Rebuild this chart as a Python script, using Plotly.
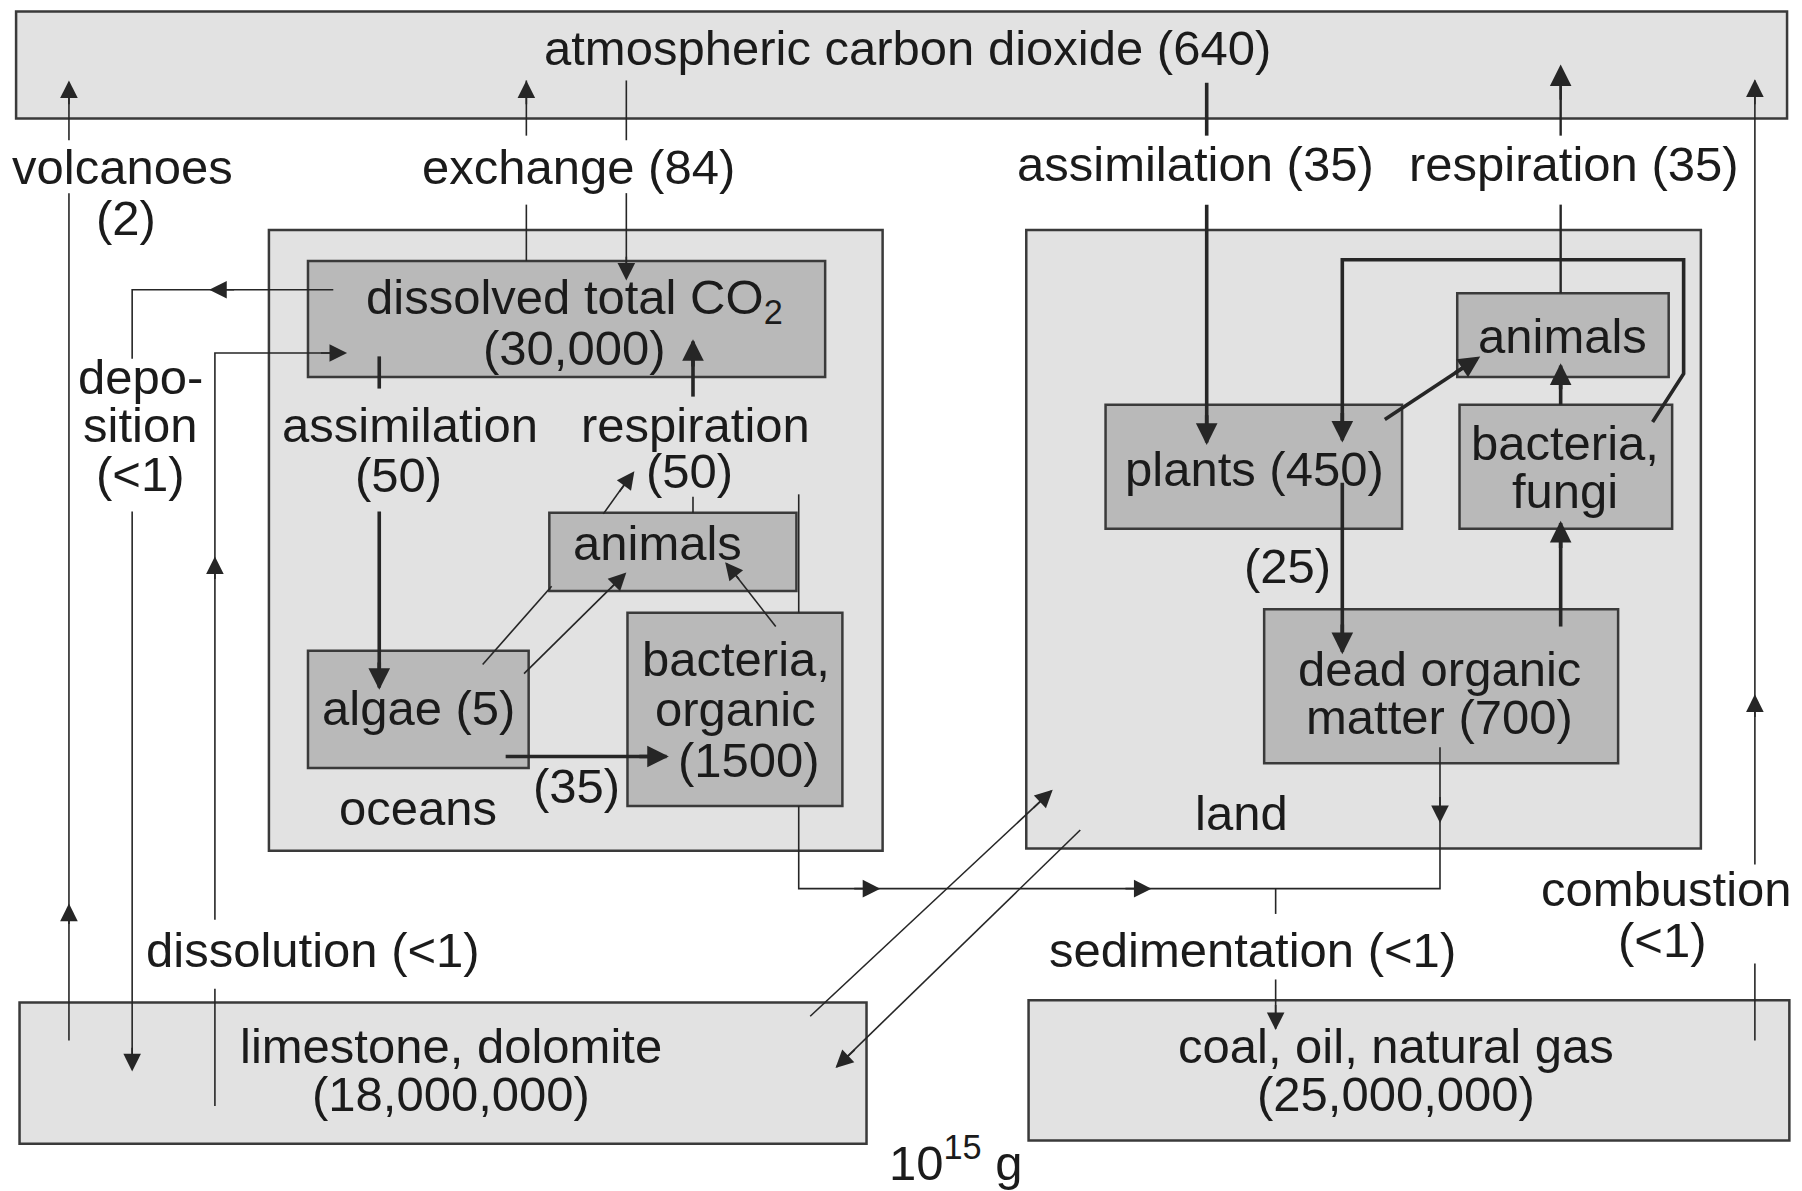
import plotly.graph_objects as go

# --- reservoirs (10^15 g of carbon) ---
RESERVOIR_NAMES = [
    "atmospheric carbon dioxide", "oceans", "dissolved total CO<sub>2</sub>", "animals", "algae",
    "bacteria,\norganic", "land", "plants", "animals", "bacteria,\nfungi",
    "dead organic\nmatter", "limestone, dolomite", "coal, oil, natural gas",
]
RESERVOIR_VALUES = ["640", None, "30,000", None, "5", "1500", None, "450", None, None, "700", "18,000,000", "25,000,000"]

# --- fluxes (10^15 g / yr) ---
FLUX_NAMES = ["volcanoes", "exchange", "assimilation", "respiration", "depo-\nsition", "assimilation",
              "respiration", "", "", "dissolution", "sedimentation", "combustion"]
FLUX_VALUES = ["2", "84", "35", "35", "&lt;1", "50", "50", "35", "25", "&lt;1", "&lt;1", "&lt;1"]
UNIT_LABEL = "10<sup>15</sup> g"

# --- layout of the diagram (picture pixels, 1568 x 1036 frame) ---
BOX_RECTS = [
    (14, 10, 1555, 103), (234, 200, 768, 740), (268, 227, 718, 328), (478, 446, 693, 514),
    (268, 566, 460, 668), (546, 533, 733, 701), (893, 200, 1480, 738), (962, 352, 1220, 460),
    (1268, 255, 1452, 328), (1270, 352, 1455, 460), (1100, 530, 1408, 664), (17, 872, 754, 995),
    (895, 870, 1557, 992),
]
BOX_KIND = ["outer", "outer", "inner", "inner", "inner", "inner", "outer", "inner", "inner", "inner",
            "inner", "outer", "outer"]
BOX_TEXT_POS = [
    (790, 42), (364, 703), (500, 261), (572, 472), (364, 616), (640, 573), (1080, 707), (1092, 408),
    (1360, 292), (1362, 385), (1253, 582), (392, 910), (1215, 910),
]
LAST_LINE_DX = [0, 0, 0, 0, 0, 12, 0, 0, 0, 0, 0, 0, 0]
VALUE_ON_NEW_LINE = [False, False, True, False, False, True, False, False, False, False, False, True, True]

FLUX_TEXT_POS = [
    (107, 145), (503, 145), (1040, 143), (1370, 143), (122, 328), (357, 370), (605, 370),
    (502, 684), (1120, 492), (272, 826), (1090, 826), (1450, 773),
]
FLUX_VALUE_ON_NEW_LINE = [True, False, False, False, True, True, True, False, False, False, False, True]
FLUX_VALUE_POS = [
    (110, 190), None, None, None, (122, 412), (347, 413), (600, 410), (502, 684), (1120, 492),
    None, None, (1447, 818),
]

THIN_PATHS = [
    [(60, 905), (60, 168)], [(60, 122), (60, 72)],
    [(290, 252), (115, 252), (115, 312)], [(115, 445), (115, 930)],
    [(187, 962), (187, 860)], [(187, 800), (187, 307), (300, 307)],
    [(458, 227), (458, 178)], [(458, 118), (458, 70)],
    [(545, 70), (545, 122)], [(545, 168), (545, 242)],
    [(603, 432), (603, 446)], [(525, 447), (550, 412)],
    [(695, 533), (695, 430)],
    [(420, 578), (480, 510)], [(456, 586), (543, 500)],
    [(675, 545), (632, 490)],
    [(695, 701), (695, 773), (1253, 773), (1253, 650)],
    [(1110, 773), (1110, 795)], [(1110, 852), (1110, 895)],
    [(705, 884), (915, 688)], [(940, 722), (728, 928)],
    [(1527, 905), (1527, 838)], [(1527, 752), (1527, 70)],
]
THIN_HEADS = [
    (60, 92, 60, 70), (60, 805, 60, 786), (205, 252, 182, 252), (115, 910, 115, 932),
    (187, 505, 187, 484), (278, 307, 302, 307), (458, 92, 458, 70), (545, 222, 545, 244),
    (538, 429, 552, 410), (530, 513, 545, 498), (644, 505, 631, 489), (742, 773, 766, 773),
    (978, 773, 1002, 773), (1253, 692, 1253, 716), (1110, 873, 1110, 896), (898, 704, 916, 687),
    (745, 912, 727, 929), (1527, 625, 1527, 604), (1527, 92, 1527, 69),
]
MEDIUM_PATHS = [[(1358, 255), (1358, 178)], [(1358, 118), (1358, 60)]]
MEDIUM_HEADS = [(1358, 88, 1358, 56)]
THICK_PATHS = [
    [(330, 310), (330, 338)], [(330, 445), (330, 598)],
    [(603, 345), (603, 297)], [(440, 658), (580, 658)],
    [(1050, 72), (1050, 118)], [(1050, 178), (1050, 385)],
    [(1438, 367), (1465, 325), (1465, 226), (1168, 226), (1168, 383)],
    [(1205, 365), (1285, 312)], [(1358, 352), (1358, 318)],
    [(1358, 545), (1358, 455)], [(1168, 420), (1168, 567)],
]
THICK_HEADS = [
    (330, 575, 330, 600), (603, 320, 603, 295), (555, 658, 582, 658), (1050, 360, 1050, 387),
    (1168, 358, 1168, 385), (1265, 325, 1288, 310), (1358, 340, 1358, 316), (1358, 478, 1358, 453),
    (1168, 542, 1168, 569),
]

W, H = 1568, 1036
FONT = "Liberation Sans, Arial, Helvetica, sans-serif"
TEXT_COLOR = "#1b1b1b"
LINE_COLOR = "#262626"
FONT_SIZE = 49
LINE_STEP = 42

fig = go.Figure()
# invisible trace to set up the axes
fig.add_trace(go.Scatter(x=[0, W], y=[0, H], mode="markers", marker={"opacity": 0}, hoverinfo="skip", showlegend=False))

shapes = []
for (x0, y0, x1, y1), kind in zip(BOX_RECTS, BOX_KIND):
    fill = "#e2e2e2" if kind == "outer" else "#b9b9b9"
    shapes.append({"type": "rect", "x0": x0, "y0": y0, "x1": x1, "y1": y1, "fillcolor": fill,
                   "line": {"color": "#3a3a3a", "width": 2.5}, "layer": "below"})


def path_shape(points, width):
    d = "M " + " L ".join(f"{x},{y}" for x, y in points)
    return {"type": "path", "path": d, "line": {"color": LINE_COLOR, "width": width}}


shapes += [path_shape(p, 1.6) for p in THIN_PATHS]
shapes += [path_shape(p, 2.4) for p in MEDIUM_PATHS]
shapes += [path_shape(p, 3.6) for p in THICK_PATHS]

annotations = []


def head(ax, ay, x, y, width, size):
    annotations.append({"x": x, "y": y, "ax": ax, "ay": ay, "xref": "x", "yref": "y", "axref": "x",
                        "ayref": "y", "text": "", "showarrow": True, "arrowhead": 2, "arrowsize": size,
                        "arrowwidth": width, "arrowcolor": LINE_COLOR, "standoff": 0, "startstandoff": 0})


for h in THIN_HEADS:
    head(*h, 1.6, 2.2)
for h in MEDIUM_HEADS:
    head(*h, 2.4, 1.8)
for h in THICK_HEADS:
    head(*h, 3.6, 1.2)


def text(x, y, s, size=FONT_SIZE):
    annotations.append({"x": x, "y": y, "xref": "x", "yref": "y", "text": s, "showarrow": False,
                        "font": {"family": FONT, "size": size, "color": TEXT_COLOR},
                        "xanchor": "center", "yanchor": "middle", "borderpad": 0})


for name, value, (x, y), newline, dx in zip(RESERVOIR_NAMES, RESERVOIR_VALUES, BOX_TEXT_POS,
                                            VALUE_ON_NEW_LINE, LAST_LINE_DX):
    lines = name.split("\n")
    if value is not None:
        if newline:
            lines.append(f"({value})")
        else:
            lines[-1] += f" ({value})"
    step = LINE_STEP * (1.05 if len(lines) == 3 else 1.0)
    for i, ln in enumerate(lines):
        shift = dx if (i == len(lines) - 1 and i > 0) else 0
        text(x + shift, y + i * step, ln)

for name, value, (x, y), newline, vpos in zip(FLUX_NAMES, FLUX_VALUES, FLUX_TEXT_POS,
                                               FLUX_VALUE_ON_NEW_LINE, FLUX_VALUE_POS):
    if not name:
        text(vpos[0], vpos[1], f"({value})")
        continue
    lines = name.split("\n")
    if newline:
        for i, ln in enumerate(lines):
            text(x, y + i * LINE_STEP, ln)
        text(vpos[0], vpos[1], f"({value})")
    else:
        text(x, y, f"{lines[0]} ({value})")

text(832, 1008, UNIT_LABEL)

fig.update_layout(
    width=1802, height=1191,
    margin={"l": 0, "r": 0, "t": 0, "b": 0},
    paper_bgcolor="white", plot_bgcolor="white",
    xaxis={"range": [0, W], "visible": False, "fixedrange": True},
    yaxis={"range": [H, 0], "visible": False, "fixedrange": True},
    shapes=shapes, annotations=annotations, showlegend=False,
)
fig.write_html("out.html", config={"displayModeBar": False},
               post_script="document.body.style.margin='0';document.body.style.overflow='hidden';")
